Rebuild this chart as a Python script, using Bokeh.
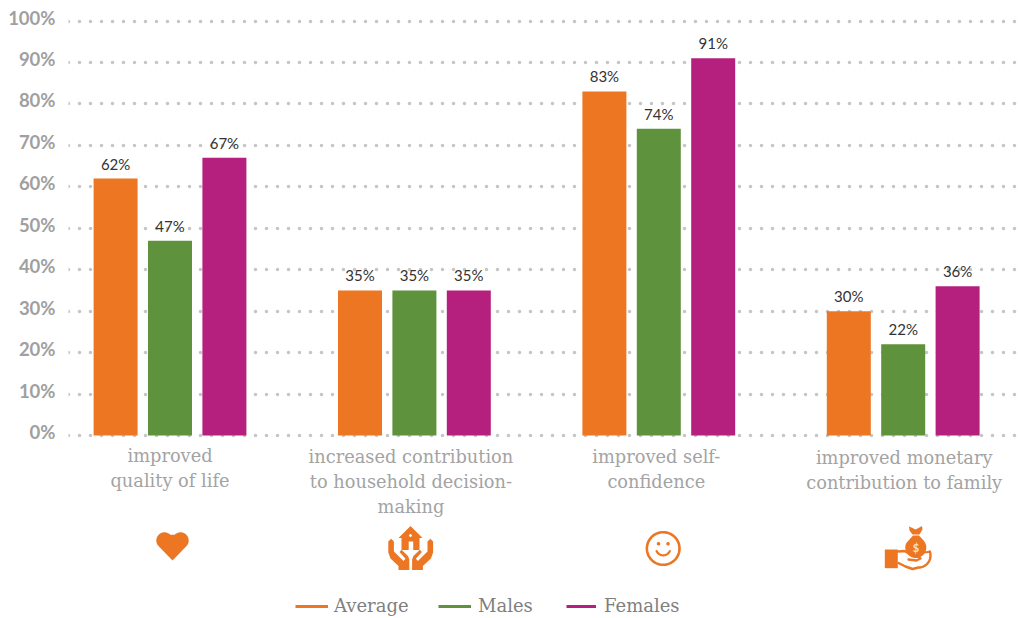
import numpy as np
from bokeh.plotting import figure
from bokeh.models import Range1d, LinearAxis, Grid, FixedTicker, ColumnDataSource, Legend, LegendItem
from bokeh.core.properties import value
from bokeh.embed import file_html
from bokeh.resources import INLINE

categories = ["improved\nquality of life",
              "increased contribution\nto household decision-\nmaking",
              "improved self-\nconfidence",
              "improved monetary\ncontribution to family"]
average = [62, 35, 83, 30]
males = [47, 35, 74, 22]
females = [67, 35, 91, 36]
series_names = ["Average", "Males", "Females"]
colors = ["#ED7623", "#5F923D", "#B51F7E"]
ticks = [0, 10, 20, 30, 40, 50, 60, 70, 80, 90, 100]
tick_labels = {t: f"{t}%" for t in ticks}

W, H = 1018, 618
LEFT = 68
PX_X = 244.4
PX_Y = 4.145
X0, Y0 = 169.5, 435.0   # page pixel of first group centre / zero line
ORANGE = "#ED7623"


def dx(px):
    return (np.asarray(px, float) - X0) / PX_X


def dy(px):
    return (Y0 - np.asarray(px, float)) / PX_Y


p = figure(width=W, height=H, output_backend="svg", toolbar_location=None,
           x_axis_location=None, y_axis_location=None,
           x_range=Range1d(float(dx(LEFT)), float(dx(W))),
           y_range=Range1d(float(dy(H)), float(dy(0))),
           min_border_left=LEFT, min_border_right=0, min_border_top=0, min_border_bottom=0)
p.outline_line_color = None
p.background_fill_color = "white"
p.border_fill_color = "white"
p.grid.visible = False

p.extra_y_ranges = {"labels": Range1d(p.y_range.start - 3.5 / PX_Y, p.y_range.end - 3.5 / PX_Y)}
axis = LinearAxis(y_range_name="labels", ticker=FixedTicker(ticks=ticks),
                  major_label_overrides=tick_labels,
                  axis_line_color=None, major_tick_line_color=None, minor_tick_line_color=None,
                  major_label_standoff=7, major_label_text_font="Lato",
                  major_label_text_font_style="bold", major_label_text_font_size="18.5px",
                  major_label_text_color="#A0A0A0")
p.add_layout(axis, "left")
grid = Grid(dimension=1, ticker=FixedTicker(ticks=ticks), grid_line_color="#C6C6C6",
            grid_line_width=3.6, grid_line_dash="0 11", grid_line_cap="round")
p.add_layout(grid)

step = 54.4 / PX_X
group_x = np.arange(len(categories))
for offset, vals, col in zip((-step, 0, step), (average, males, females), colors):
    src = ColumnDataSource(dict(x=group_x + offset, top=vals,
                                label=[f"{v}%" for v in vals]))
    p.vbar(x="x", top="top", bottom=0, width=44 / PX_X, source=src,
           fill_color=col, line_color=None)
    p.text(x="x", y="top", text="label", source=src, text_align="center",
           text_baseline="bottom", y_offset=-6, text_font=value("Lato"),
           text_font_size="15px", text_color="#333333")

cat_src = ColumnDataSource(dict(x=group_x, y=[0, 0, 0, 0], text=categories,
                                xoff=[0, -3.5, -2.5, 1], off=[9, 10, 10, 11]))
p.text(x="x", y="y", text="text", x_offset="xoff", y_offset="off", source=cat_src, text_align="center",
       text_baseline="top", text_font=value("DejaVu Serif"), text_font_size="17.8px",
       text_color="#A3A3A3", text_line_height=1.2)


# ---- decorative icons, described in page pixels ----
def poly(pts, color=ORANGE):
    a = np.array(pts, float)
    p.patch(dx(a[:, 0]), dy(a[:, 1]), fill_color=color, line_color=None)


def arc_pts(cx, cy, rx, ry, a0, a1, n=40):
    t = np.radians(np.linspace(a0, a1, n))
    return np.column_stack([cx + rx * np.cos(t), cy + ry * np.sin(t)])


def stroke(pts, w, color=ORANGE):
    a = np.array(pts, float)
    p.line(dx(a[:, 0]), dy(a[:, 1]), line_color=color, line_width=w, line_cap="round", line_join="round")


# heart
poly(np.vstack([arc_pts(164, 540, 8.2, 8.2, 135, 315), arc_pts(180, 540, 8.2, 8.2, 225, 405), [[172, 560]]]))

# house in hands
poly([(410, 525.5), (422, 537.5), (419, 537.5), (419, 549.5), (401, 549.5), (401, 537.5), (398, 537.5)])
poly([(408.2, 541), (412.7, 541), (412.7, 549.5), (408.2, 549.5)], "white")
poly(arc_pts(410, 535, 1.4, 1.4, 0, 360, 16), "white")
left_hand = [(387.8, 541), (390.6, 538.2), (393.4, 541), (393.4, 551), (403, 560.5), (405, 558.3), (399, 551.5),
             (401, 549.3), (407.5, 555.5), (408.8, 559), (408.8, 569.5), (398, 569.5), (398, 565.5),
             (390, 558), (387.8, 552)]
poly(left_hand)
poly([(820.4 - x, y) for x, y in left_hand])

# smile
stroke(arc_pts(662.7, 548, 16.3, 16.3, 0, 360, 72), 2.6)
poly(arc_pts(658, 543.3, 1.8, 1.8, 0, 360, 16))
poly(arc_pts(667.5, 543.3, 1.8, 1.8, 0, 360, 16))
stroke(arc_pts(662.7, 547.5, 7.3, 7.3, 25, 155, 24), 2.2)

# money bag on a hand
poly([(884.3, 549), (897.3, 549), (897.3, 567.7), (884.3, 567.7)])
poly([(908.5, 526), (912, 527.5), (915, 529), (918, 527.5), (921.5, 525.5), (922, 529), (919, 534), (912, 534), (909, 530)])
poly(np.vstack([[(912.5, 535), (918.5, 535)], arc_pts(915.3, 547, 10.5, 10.5, -45, 205)]))
stroke([(897.5, 551), (904, 550.5), (912, 555), (918, 556), (920, 558), (916, 560), (908, 559)], 2.4)
stroke(np.vstack([[(898, 562.5), (905, 566), (912, 568.5), (918, 567)],
                  arc_pts(918, 555, 12, 12, 90, -20, 20)]), 2.4)
stroke([(922, 552), (928, 551.5)], 2.2)
p.text(x=[float(dx(915.5))], y=[float(dy(547))], text=["$"], text_align="center", text_baseline="middle",
       text_color="#F9E0CC", text_font=value("Lato"), text_font_style="bold", text_font_size="11px")

# ---- legend: one block per entry, so each sits where the reference has it ----
for name, col, gx, gw, gap in zip(series_names, colors, (295, 438, 566), (33, 33, 30), (6, 7, 8)):
    r = p.line(x=[float("nan")], y=[float("nan")], line_color=col, line_width=3)
    legend = Legend(items=[LegendItem(label=name, renderers=[r])], orientation="horizontal",
                    location=(gx - LEFT, 2),
                    background_fill_alpha=0, border_line_color=None, margin=0, padding=0,
                    glyph_width=gw, glyph_height=14, label_standoff=gap, spacing=0,
                    label_text_font="DejaVu Serif", label_text_font_size="18px",
                    label_text_color="#7F7F7F", label_height=14)
    p.add_layout(legend)

open("out.html", "w").write(file_html(p, INLINE))
